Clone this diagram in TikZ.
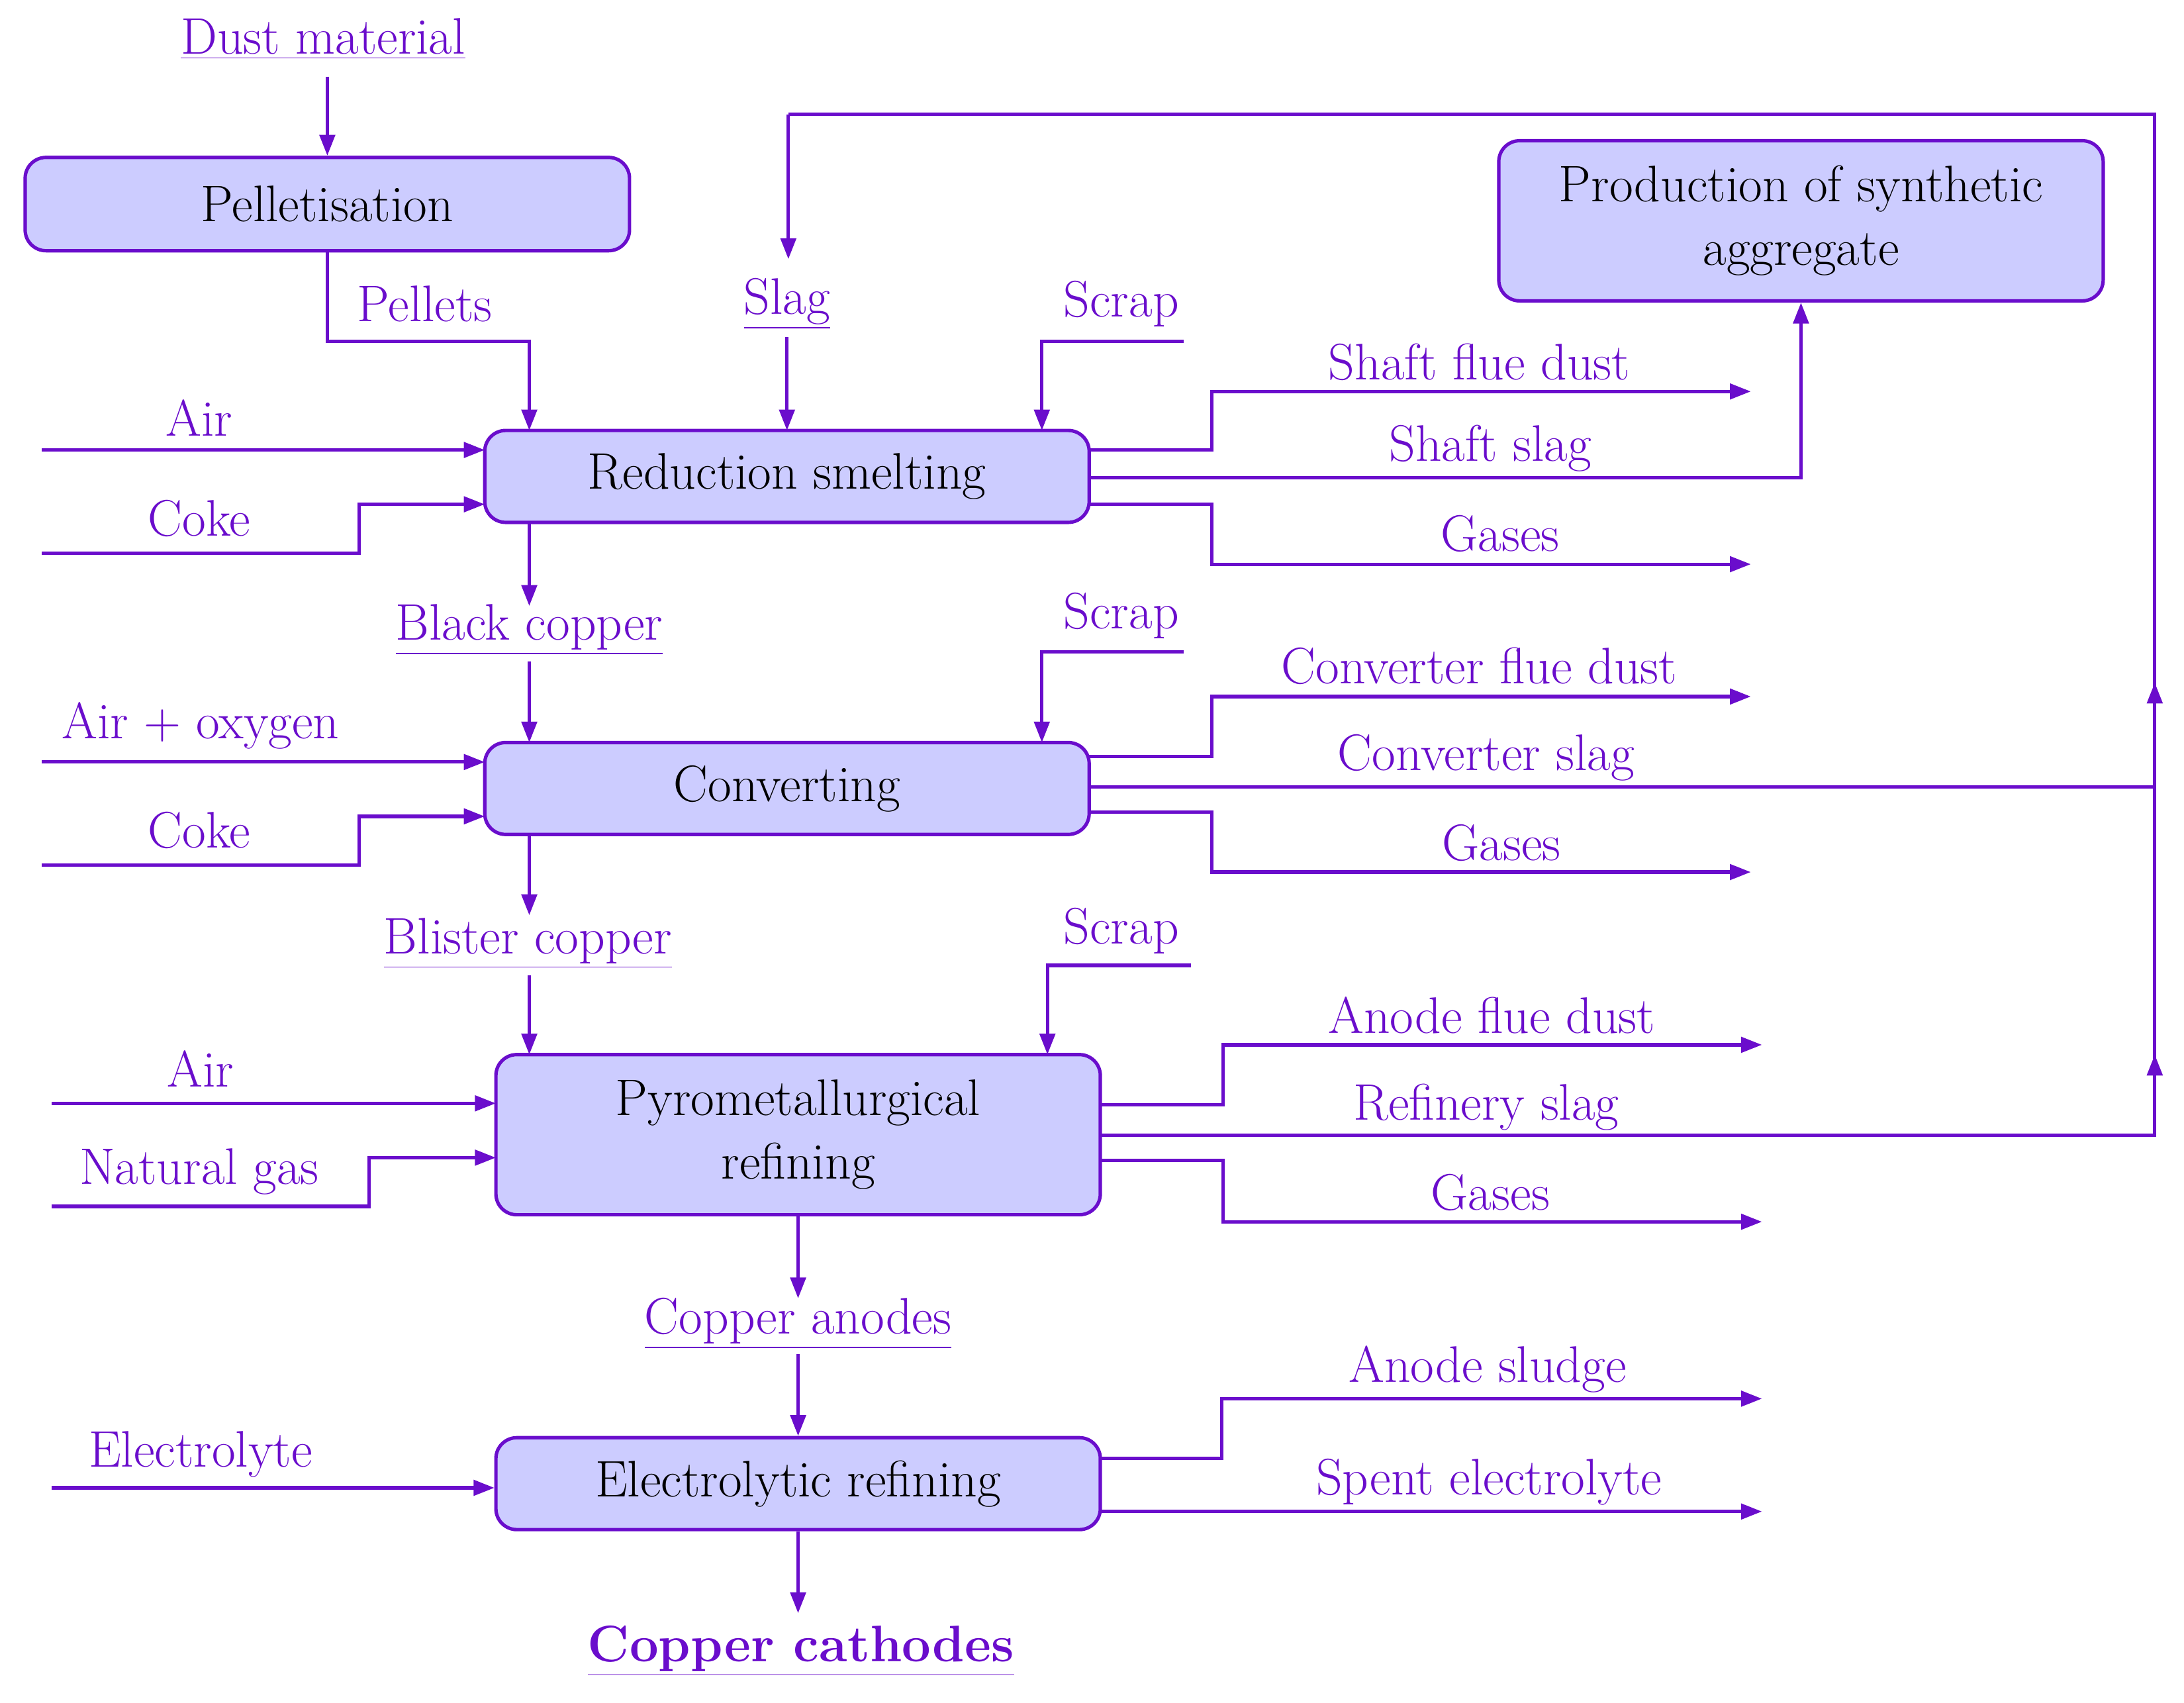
\documentclass[tikz,border=0pt]{standalone}
\usetikzlibrary{arrows.meta}
\definecolor{pc}{HTML}{6A0DCC}
\definecolor{bf}{HTML}{CCCCFF}
\begin{document}
\begin{tikzpicture}[x=0.02cm,y=-0.02cm,
  box/.style={draw=pc,fill=bf,rounded corners=0.3cm,line width=1.4pt,minimum width=8.68cm,align=center,font=\fontsize{21}{26}\selectfont,text=black,inner sep=0pt},
  lab/.style={text=pc,font=\fontsize{21}{25}\selectfont,inner sep=0pt},
  ln/.style={draw=pc,line width=1.4pt},
  ar/.style={ln,-{Triangle[length=0.3cm,width=0.22cm]}}]
\useasboundingbox (0,0) rectangle (1568,1222);
% boxes
\node[box,minimum height=1.34cm] (pel) at (235,146.5) {Pelletisation};
\node[box,minimum height=2.3cm] (psa) at (1293,158.5) {Production of synthetic\\aggregate};
\node[box,minimum height=1.32cm] (rs) at (565,342) {Reduction smelting};
\node[box,minimum height=1.32cm] (cv) at (565,566) {Converting};
\node[box,minimum height=2.3cm] (py) at (573,814.5) {Pyrometallurgical\\refining};
\node[box,minimum height=1.32cm] (el) at (573,1065) {Electrolytic refining};
% labels
\node[lab] (dust) at (232,28) {\underline{Dust material}};
\node[lab] (pellets) at (305,218) {Pellets};
\node[lab] (slag) at (565,218) {\underline{Slag}};
\node[lab] (scr1) at (805,218) {Scrap};
\node[lab] (air1) at (143,300) {Air};
\node[lab] (coke1) at (143,372) {Coke};
\node[lab] (sfd) at (1062,260) {Shaft flue dust};
\node[lab] (ss) at (1070,322) {Shaft slag};
\node[lab] (g1) at (1077,383) {Gases};
\node[lab] (bc) at (380,452) {\underline{Black copper}};
\node[lab] (scr2) at (805,442) {Scrap};
\node[lab] (air2) at (144,521) {Air + oxygen};
\node[lab] (coke2) at (143,596) {Coke};
\node[lab] (cfd) at (1062,478) {Converter flue dust};
\node[lab] (cs) at (1067,544) {Converter slag};
\node[lab] (g2) at (1078,605) {Gases};
\node[lab] (bl) at (379,677) {\underline{Blister copper}};
\node[lab] (scr3) at (805,668) {Scrap};
\node[lab] (air3) at (144,767) {Air};
\node[lab] (ng) at (143,841) {Natural gas};
\node[lab] (afd) at (1071,729) {Anode flue dust};
\node[lab] (rsl) at (1067,795) {Refinery slag};
\node[lab] (g3) at (1070,856) {Gases};
\node[lab] (ca) at (573,950) {\underline{Copper anodes}};
\node[lab] (ely) at (144,1044) {Electrolyte};
\node[lab] (as) at (1068,983) {Anode sludge};
\node[lab] (se) at (1069,1064) {Spent electrolyte};
\node[lab,font=\fontsize{21}{25}\selectfont\bfseries] (cc) at (575,1185) {\underline{Copper cathodes}};
% connectors
\draw[ar] (235,55) -- (pel.north);
\draw[ar] (pel.south) -- (235,245) -- (380,245) -- (380,309);
\draw[ar] (565,242) -- (565,309);
\draw[ar] (850,245) -- (748,245) -- (748,309);
\draw[ar] (30,323) -- (348,323);
\draw[ar] (30,397) -- (258,397) -- (258,362) -- (348,362);
\draw[ar] (782,323) -- (870,323) -- (870,281) -- (1257,281);
\draw[ar] (782,343) -- (1293,343) -- (psa.south);
\draw[ar] (782,362) -- (870,362) -- (870,405) -- (1257,405);
\draw[ar] (380,375) -- (380,435);
\draw[ar] (380,475) -- (380,533);
\draw[ar] (850,468) -- (748,468) -- (748,533);
\draw[ar] (30,547) -- (348,547);
\draw[ar] (30,621) -- (258,621) -- (258,586) -- (348,586);
\draw[ar] (782,543) -- (870,543) -- (870,500) -- (1257,500);
\draw[ar] (782,565) -- (1547,565) -- (1547,490);
\draw[ln] (1547,495) -- (1547,82) -- (566,82);
\draw[ar] (566,82) -- (566,186);
\draw[ar] (782,583) -- (870,583) -- (870,626) -- (1257,626);
\draw[ar] (380,599) -- (380,657);
\draw[ar] (380,700) -- (380,757);
\draw[ar] (855,693) -- (752,693) -- (752,757);
\draw[ar] (37,792) -- (356,792);
\draw[ar] (37,866) -- (265,866) -- (265,831) -- (356,831);
\draw[ar] (790,793) -- (878,793) -- (878,750) -- (1265,750);
\draw[ar] (790,815) -- (1547,815) -- (1547,757);
\draw[ln] (1547,760) -- (1547,565);
\draw[ar] (790,833) -- (878,833) -- (878,877) -- (1265,877);
\draw[ar] (py.south) -- (573,932);
\draw[ar] (573,972) -- (el.north);
\draw[ar] (37,1068) -- (355,1068);
\draw[ar] (789,1047) -- (877,1047) -- (877,1004) -- (1265,1004);
\draw[ar] (789,1085) -- (1265,1085);
\draw[ar] (el.south) -- (573,1158);
\end{tikzpicture}
\end{document}
